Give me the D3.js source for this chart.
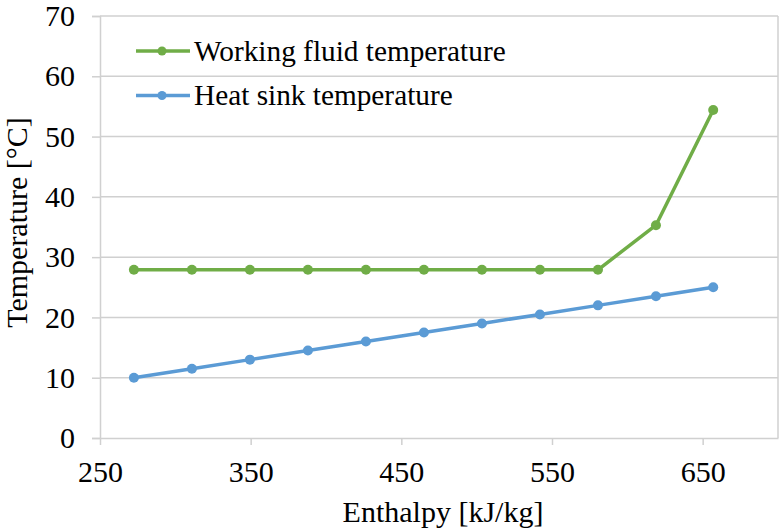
<!DOCTYPE html>
<html>
<head>
<meta charset="utf-8">
<script src="https://cdn.jsdelivr.net/npm/d3@7"></script>
<style>
  html, body { margin: 0; padding: 0; background: #fff; }
  svg { display: block; }
  svg text { font-family: "Times New Roman", "Liberation Serif", "DejaVu Serif", serif !important; fill: #000; }
</style>
</head>
<body>
<svg id="chart" width="779" height="530"></svg>
<script>
// Enthalpy values along the process [kJ/kg]
const enthalpy = [272.5, 311, 349.5, 388, 426.5, 465, 503.5, 542, 580.5, 619, 657];
// Temperatures [°C]
const workingFluid = [27.9, 27.9, 27.9, 27.9, 27.9, 27.9, 27.9, 27.9, 27.9, 35.3, 54.4];
const heatSink = [10, 11.5, 13, 14.5, 16, 17.5, 19, 20.5, 22, 23.5, 25];

const xTicks = [250, 350, 450, 550, 650];
const yTicks = [0, 10, 20, 30, 40, 50, 60, 70];

const seriesNames = ["Working fluid temperature", "Heat sink temperature"];
const seriesColors = ["#70ad47", "#5b9bd5"];

const svg = d3.select("#chart");
const plotLeft = 100, plotRight = 778, plotTop = 16, plotBottom = 438;

const x = d3.scaleLinear().domain([250, 700]).range([plotLeft, plotRight]);
const y = d3.scaleLinear().domain([0, 70]).range([plotBottom, plotTop]);

const gridColor = "#d0d0d0";

// horizontal gridlines
svg.append("g").selectAll("line").data(yTicks.filter(d => d > 0)).join("line")
  .attr("x1", plotLeft).attr("x2", plotRight)
  .attr("y1", d => y(d)).attr("y2", d => y(d))
  .attr("stroke", gridColor).attr("stroke-width", 1.5);

// right border
svg.append("line").attr("x1", plotRight).attr("x2", plotRight).attr("y1", plotTop).attr("y2", plotBottom)
  .attr("stroke", gridColor).attr("stroke-width", 1.5);

// y axis
const yAxis = svg.append("g").attr("transform", `translate(${plotLeft},0)`)
  .call(d3.axisLeft(y).tickValues(yTicks).tickSize(8).tickPadding(17).tickFormat(d3.format("d")));
yAxis.select(".domain").attr("stroke", gridColor).attr("stroke-width", 1.5);
yAxis.selectAll(".tick line").attr("stroke", gridColor).attr("stroke-width", 1.5);
yAxis.selectAll("text").attr("font-size", 30).attr("fill", "#000");

// x axis
const xAxis = svg.append("g").attr("transform", `translate(0,${plotBottom})`)
  .call(d3.axisBottom(x).tickValues(xTicks).tickSize(7).tickPadding(16).tickSizeOuter(0).tickFormat(d3.format("d")));
xAxis.select(".domain").attr("stroke", gridColor).attr("stroke-width", 1.5);
xAxis.selectAll(".tick line").attr("stroke", gridColor).attr("stroke-width", 1.5);
xAxis.selectAll("text").attr("font-size", 30).attr("fill", "#000");

// series
const line = d3.line().x(d => x(d[0])).y(d => y(d[1]));
[workingFluid, heatSink].forEach((vals, i) => {
  const pts = enthalpy.map((e, j) => [e, vals[j]]);
  svg.append("path").datum(pts).attr("d", line)
    .attr("fill", "none").attr("stroke", seriesColors[i]).attr("stroke-width", 3.5)
    .attr("stroke-linejoin", "round");
  svg.append("g").selectAll("circle").data(pts).join("circle")
    .attr("cx", d => x(d[0])).attr("cy", d => y(d[1])).attr("r", 5)
    .attr("fill", seriesColors[i]);
});

// legend
const legend = svg.append("g");
seriesNames.forEach((name, i) => {
  const ly = 51 + i * 44.5;
  legend.append("line").attr("x1", 136).attr("x2", 190).attr("y1", ly).attr("y2", ly)
    .attr("stroke", seriesColors[i]).attr("stroke-width", 3.5);
  legend.append("circle").attr("cx", 162).attr("cy", ly).attr("r", 4.5).attr("fill", seriesColors[i]);
  legend.append("text").attr("x", 194).attr("y", ly + 9.5).attr("font-size", 29.3).text(name);
});

// axis titles
svg.append("text").attr("x", 443).attr("y", 521.5).attr("text-anchor", "middle")
  .attr("font-size", 30).text("Enthalpy [kJ/kg]");
svg.append("text").attr("transform", "translate(27,222.5) rotate(-90)").attr("text-anchor", "middle")
  .attr("font-size", 30).text("Temperature [°C]");
</script>
</body>
</html>
